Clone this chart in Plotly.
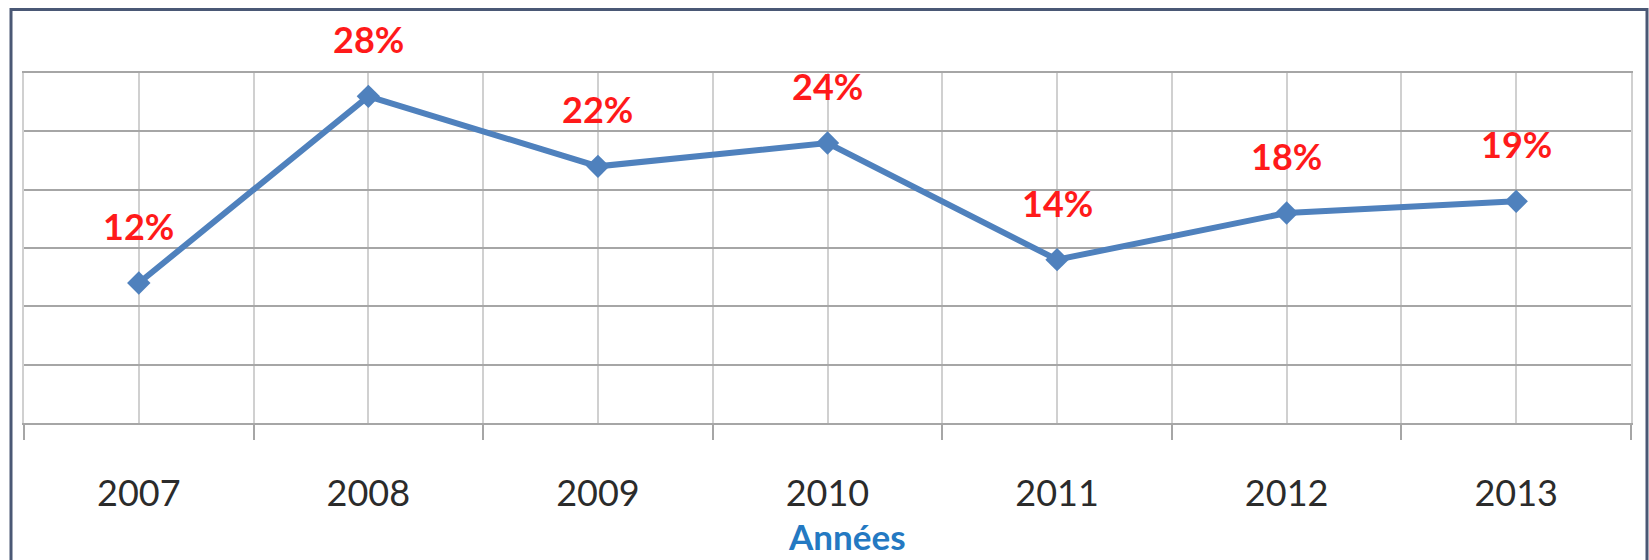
import plotly.graph_objects as go

# Annual rate series (percent)
years = [2007, 2008, 2009, 2010, 2011, 2012, 2013]
year_labels = ["2007", "2008", "2009", "2010", "2011", "2012", "2013"]
rates = [12, 28, 22, 24, 14, 18, 19]

# Category boundaries for the vertical grid / tick marks
boundaries = [y - 0.5 for y in years] + [years[-1] + 0.5]

W, H = 1649, 560
ML, MR, MT, MB = 24, 18, 73, 137
plot_w = W - ML - MR
plot_h = H - MT - MB

LINE_BLUE = "#4f81bd"
LABEL_RED = "#ff1a1a"
TITLE_BLUE = "#2479c2"
FONT = "Lato, 'Open Sans', sans-serif"

fig = go.Figure()

fig.add_trace(go.Scatter(
    x=years,
    y=rates,
    mode="lines+markers",
    line=dict(color=LINE_BLUE, width=6),
    marker=dict(symbol="diamond", size=18, color=LINE_BLUE),
    hoverinfo="skip",
    showlegend=False,
))

# Value labels above each point
for yr, v in zip(years, rates):
    fig.add_annotation(
        x=yr, y=v, text=f"<b>{v}%</b>", showarrow=False,
        yshift=57, font=dict(family=FONT, size=36, color=LABEL_RED),
    )

# Axis title
fig.add_annotation(
    xref="paper", yref="paper",
    x=(847 - ML) / plot_w, y=(MT + plot_h - 536) / plot_h,
    xanchor="center", yanchor="middle",
    text="<b>Années</b>", showarrow=False,
    font=dict(family=FONT, size=35, color=TITLE_BLUE),
)

# Outer frame
fig.add_shape(
    type="rect", xref="paper", yref="paper",
    x0=(11 - ML) / plot_w, x1=(1647 - ML) / plot_w,
    y0=(MT + plot_h - 580) / plot_h, y1=(MT + plot_h - 9.5) / plot_h,
    line=dict(color="#4a5875", width=3), layer="above",
)

fig.update_layout(
    width=W, height=H,
    margin=dict(l=ML, r=MR, t=MT, b=MB),
    paper_bgcolor="white", plot_bgcolor="white",
    font=dict(family=FONT),
)

fig.update_xaxes(
    range=[boundaries[0], boundaries[-1]],
    tickmode="array", tickvals=years, ticktext=year_labels,
    ticks="", ticklabelstandoff=38,
    tickfont=dict(family=FONT, size=36, color="#2b2b2b"),
    showgrid=True, gridcolor="#d0d0d0", gridwidth=2,
    showline=True, linecolor="#a6a6a6", linewidth=2, mirror=True,
    zeroline=False,
    minor=dict(
        tickmode="array", tickvals=boundaries,
        ticks="outside", ticklen=15, tickwidth=2, tickcolor="#a6a6a6",
        showgrid=True, gridcolor="#d0d0d0", gridwidth=2,
    ),
)

fig.update_yaxes(
    range=[0, 30], dtick=5, tick0=0,
    showticklabels=False, ticks="",
    showgrid=True, gridcolor="#a6a6a6", gridwidth=2,
    zeroline=False, showline=True, linecolor="#d0d0d0", linewidth=2, mirror=True,
)

fig.write_html("out.html")
